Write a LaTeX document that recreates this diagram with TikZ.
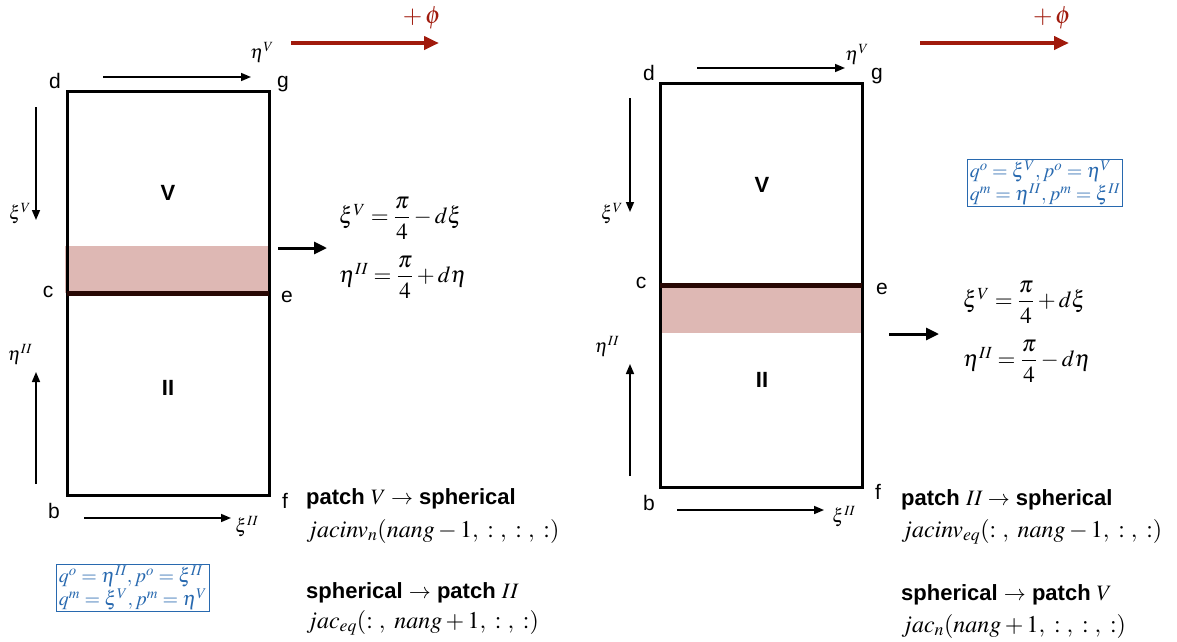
\documentclass[tikz,border=0pt]{standalone}
\usepackage{amsmath}
\usepackage{mathptmx}
\usepackage{fontspec}
\setmainfont{Liberation Serif}
\setsansfont{Liberation Sans}
\usetikzlibrary{arrows.meta,positioning}
\definecolor{phired}{RGB}{160,26,12}
\definecolor{bandred}{RGB}{222,184,180}
\definecolor{qpblue}{RGB}{40,105,175}
\definecolor{seamdark}{RGB}{40,8,4}
\tikzset{
  corner/.style={font=\sffamily\fontsize{21}{24}\selectfont, inner sep=0pt},
  patchname/.style={font=\sffamily\bfseries\fontsize{22}{26}\selectfont, inner sep=0pt},
  edge/.style={line width=3pt},
  seam/.style={line width=5pt, draw=seamdark},
  band/.style={fill=bandred},
  dir/.style={-{Triangle[length=10pt,width=8pt]}, line width=1.6pt},
  push/.style={-{Triangle[length=13pt,width=12pt]}, line width=3pt},
  phiarr/.style={-{Triangle[length=15pt,width=13pt]}, line width=4pt, draw=phired},
  lbl/.style={font=\fontsize{19}{21}\selectfont, inner sep=0pt},
  philbl/.style={font=\fontsize{25}{28}\selectfont, text=phired, inner sep=0pt},
  eqn/.style={font=\fontsize{23}{27}\selectfont, anchor=west, inner sep=0pt},
  qpbox/.style={draw=qpblue, text=qpblue, line width=1pt, align=left,
    inner xsep=2pt, inner ysep=1.5pt, font=\fontsize{20}{23}\selectfont},
  conv/.style={font=\sffamily\bfseries\fontsize{22}{26}\selectfont, anchor=west, inner sep=0pt},
  jacf/.style={font=\fontsize{24}{28}\selectfont, anchor=west, inner sep=0pt}
}

\begin{document}
\begin{tikzpicture}[x=1pt, y=-1pt]
  \useasboundingbox (0,0) rectangle (1177,641);

  % --- left panel: seam approached from V --------------------------------
  \coordinate (dL) at (67,91);
  \coordinate (fL) at (269,495);
  \fill[band] (65,246) rectangle (269,293);
  \draw[edge] (dL) rectangle (fL);
  \coordinate (cL) at (67,293);
  \coordinate (eL) at (269,293);
  \draw[seam] (cL) -- (eL);

  \node[corner] (labdL) at (55,81) {d};
  \node[corner] (labgL) at (283,84) {g};
  \node[corner] (labcL) at (48,292) {c};
  \node[corner] (labeL) at (287,297) {e};
  \node[corner] (labbL) at (54,511) {b};
  \node[corner] (labfL) at (285,501) {f};
  \node[patchname] (pVL) at (168,193) {V};
  \node[patchname] (pIIL) at (168,388) {II};

  \coordinate (etaVa) at (103,77);
  \coordinate (etaVb) at (251,77);
  \draw[dir] (etaVa) -- (etaVb);
  \node[lbl] (etaVL) at (262,52) {$\eta^V$};
  \coordinate (xiVa) at (36,107);
  \coordinate (xiVb) at (36,220);
  \draw[dir] (xiVa) -- (xiVb);
  \node[lbl] (xiVL) at (20,214) {$\xi^V$};
  \coordinate (etaIIa) at (36,484);
  \coordinate (etaIIb) at (36,372);
  \draw[dir] (etaIIa) -- (etaIIb);
  \node[lbl] (etaIIL) at (20,354) {$\eta^{II}$};
  \coordinate (xiIIa) at (84,518);
  \coordinate (xiIIb) at (231,518);
  \draw[dir] (xiIIa) -- (xiIIb);
  \node[lbl] (xiIIL) at (247,527) {$\xi^{II}$};

  \coordinate (phiLa) at (291,43);
  \coordinate (phiLb) at (439,43);
  \draw[phiarr] (phiLa) -- (phiLb);
  \node[philbl] (phiL) at (422,18) {$+\,\phi$};

  \coordinate (pushLa) at (278,248);
  \coordinate (pushLb) at (327,248);
  \draw[push] (pushLa) -- (pushLb);
  \node[eqn] (eqxiL) at (339,218) {$\xi^V = \dfrac{\pi}{4} - d\xi$};
  \node[eqn] (eqetaL) at (339,277) {$\eta^{II} = \dfrac{\pi}{4} + d\eta$};

  \node[qpbox] (qpL) at (133,588)
    {$q^o = \eta^{II}, p^o = \xi^{II}$\\$q^m = \xi^V, p^m = \eta^V$};

  \node[conv] (toSphL) at (306,499) {patch $V \rightarrow$ spherical};
  \node[jacf] (jacinvL) at (306,531) {$jacinv_n(nang - 1,\ {:}\ ,\ {:}\ ,\ {:})$};
  \node[conv] (fromSphL) at (306,593) {spherical $\rightarrow$ patch $II$};
  \node[jacf] (jacL) at (306,623) {$jac_{eq}({:}\ ,\ nang + 1,\ {:}\ ,\ {:})$};

  % --- right panel: seam approached from II ------------------------------
  \coordinate (dR) at (660,83);
  \coordinate (fR) at (862,487);
  \fill[band] (660,285) rectangle (862,333);
  \draw[edge] (dR) rectangle (fR);
  \coordinate (cR) at (660,285);
  \coordinate (eR) at (862,285);
  \draw[seam] (cR) -- (eR);

  \node[corner] (labdR) at (649,73) {d};
  \node[corner] (labgR) at (877,76) {g};
  \node[corner] (labcR) at (641,283) {c};
  \node[corner] (labeR) at (882,289) {e};
  \node[corner] (labbR) at (649,503) {b};
  \node[corner] (labfR) at (878,492) {f};
  \node[patchname] (pVR) at (762,185) {V};
  \node[patchname] (pIIR) at (762,380) {II};

  \coordinate (etaVRa) at (697,68);
  \coordinate (etaVRb) at (845,68);
  \draw[dir] (etaVRa) -- (etaVRb);
  \node[lbl] (etaVR) at (857,54) {$\eta^V$};
  \coordinate (xiVRa) at (630,98);
  \coordinate (xiVRb) at (630,212);
  \draw[dir] (xiVRa) -- (xiVRb);
  \node[lbl] (xiVR) at (612,214) {$\xi^V$};
  \coordinate (etaIIRa) at (630,476);
  \coordinate (etaIIRb) at (630,364);
  \draw[dir] (etaIIRa) -- (etaIIRb);
  \node[lbl] (etaIIR) at (607,346) {$\eta^{II}$};
  \coordinate (xiIIRa) at (677,510);
  \coordinate (xiIIRb) at (824,510);
  \draw[dir] (xiIIRa) -- (xiIIRb);
  \node[lbl] (xiIIR) at (844,517) {$\xi^{II}$};

  \coordinate (phiRa) at (920,43);
  \coordinate (phiRb) at (1069,43);
  \draw[phiarr] (phiRa) -- (phiRb);
  \node[philbl] (phiR) at (1052,18) {$+\,\phi$};

  \node[qpbox] (qpR) at (1045,183)
    {$q^o = \xi^V, p^o = \eta^V$\\$q^m = \eta^{II}, p^m = \xi^{II}$};

  \coordinate (pushRa) at (889,334);
  \coordinate (pushRb) at (939,334);
  \draw[push] (pushRa) -- (pushRb);
  \node[eqn] (eqxiR) at (963,302) {$\xi^V = \dfrac{\pi}{4} + d\xi$};
  \node[eqn] (eqetaR) at (963,361) {$\eta^{II} = \dfrac{\pi}{4} - d\eta$};

  \node[conv] (toSphR) at (901,500) {patch $II \rightarrow$ spherical};
  \node[jacf] (jacinvR) at (901,532) {$jacinv_{eq}({:}\ ,\ nang - 1,\ {:}\ ,\ {:})$};
  \node[conv] (fromSphR) at (901,595) {spherical $\rightarrow$ patch $V$};
  \node[jacf] (jacR) at (901,626) {$jac_n(nang + 1,\ {:}\ ,\ {:}\ ,\ {:})$};
\end{tikzpicture}
\end{document}
